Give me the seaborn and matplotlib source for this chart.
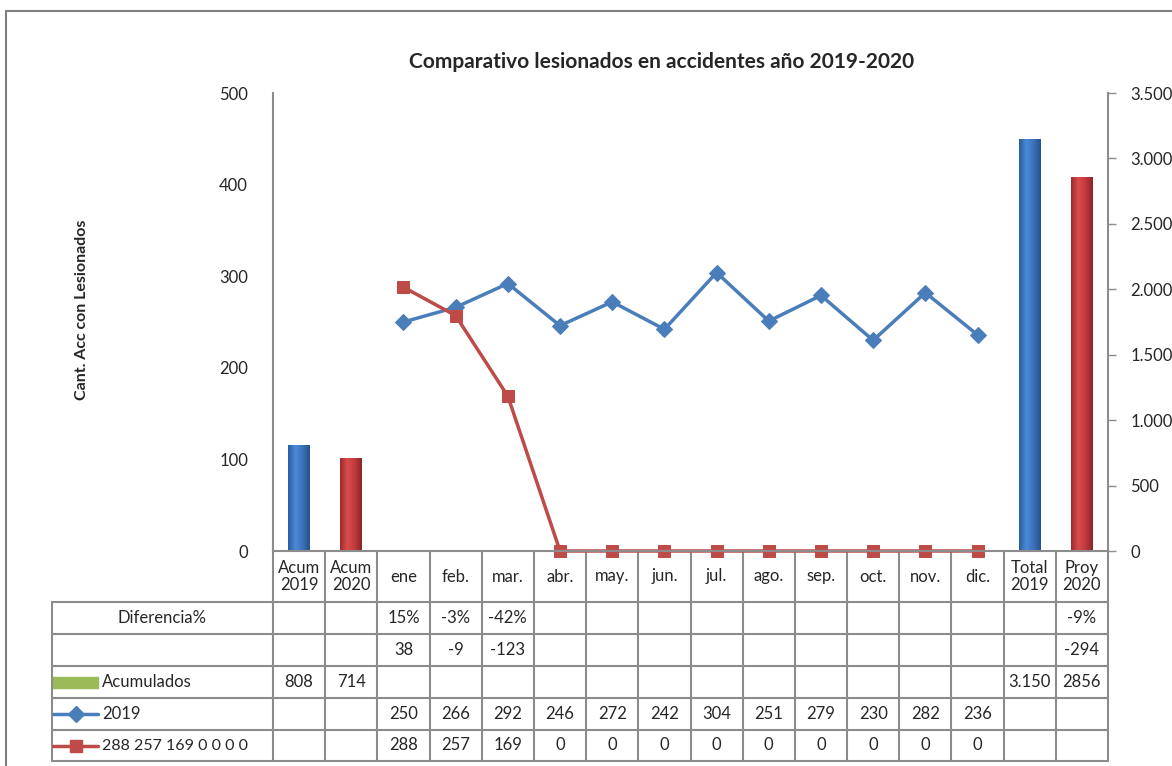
import numpy as np
import pandas as pd
import seaborn as sns
import matplotlib.pyplot as plt
from matplotlib.patches import Rectangle
from matplotlib.lines import Line2D
from matplotlib.ticker import FuncFormatter
from matplotlib.colors import LinearSegmentedColormap

# datos
categorias = ['Acum\n2019', 'Acum\n2020', 'ene', 'feb.', 'mar.', 'abr.', 'may.', 'jun.',
              'jul.', 'ago.', 'sep.', 'oct.', 'nov.', 'dic.', 'Total\n2019', 'Proy\n2020']
meses = categorias[2:14]
serie_2019 = [250, 266, 292, 246, 272, 242, 304, 251, 279, 230, 282, 236]
serie_2020 = [288, 257, 169, 0, 0, 0, 0, 0, 0, 0, 0, 0]
acum_cats = ['Acum\n2019', 'Acum\n2020', 'Total\n2019', 'Proy\n2020']
acumulados = [808, 714, 3150, 2856]
acum_grupo = ['2019', '2020', '2019', '2020']
dif_pct = ['', '', '15%', '-3%', '-42%'] + [''] * 10 + ['-9%']
dif_abs = ['', '', '38', '-9', '-123'] + [''] * 10 + ['-294']
acum_txt = ['808', '714'] + [''] * 12 + ['3.150', '2856']
nombre_2020 = '288 257 169 0 0 0 0'

pos = {c: i for i, c in enumerate(categorias)}

AZUL = '#4A7EBB'
ROJO = '#BE4B48'
GRIS = '#8C8C8C'
FS = 12

sns.set_style('white')
plt.rcParams['font.family'] = ['Lato', 'DejaVu Sans']

W, H = 1172, 766
fig = plt.figure(figsize=(W / 100, H / 100), dpi=100)
ax = fig.add_axes([273 / W, 1 - 551 / H, 835 / W, 458 / H])
ax2 = ax.twinx()

# barras acumuladas (eje secundario)
df_b = pd.DataFrame({'pos': [pos[c] for c in acum_cats], 'val': acumulados, 'grupo': acum_grupo})
sns.barplot(data=df_b, x='pos', y='val', hue='grupo', palette={'2019': '#3B74BC', '2020': '#C93D3F'},
            native_scale=True, dodge=False, width=0.42, ax=ax2, legend=False, linewidth=0)

# efecto cilindro en las barras
grad = {'2019': LinearSegmentedColormap.from_list('b', ['#2C5C9A', '#4A8AD8', '#3A72BA', '#26528C']),
        '2020': LinearSegmentedColormap.from_list('r', ['#9C2C2E', '#DA4B4D', '#C23A3C', '#8A2426'])}
grupo_por_pos = dict(zip(df_b['pos'], df_b['grupo']))
for p in list(ax2.patches):
    x0, w, h = p.get_x(), p.get_width(), p.get_height()
    g = grupo_por_pos[int(round(x0 + w / 2))]
    im = ax2.imshow(np.linspace(0, 1, 64).reshape(1, -1), cmap=grad[g], aspect='auto',
                    extent=(x0, x0 + w, 0, h), zorder=p.get_zorder() + 0.1)
    im.set_clip_path(p)
ax2.set_aspect('auto')

# lineas mensuales (eje principal)
x_meses = [pos[m] for m in meses]
sns.lineplot(x=x_meses, y=serie_2019, ax=ax, color=AZUL, marker='D', markersize=8,
             markeredgecolor=AZUL, linewidth=2.5)
sns.lineplot(x=x_meses, y=serie_2020, ax=ax, color=ROJO, marker='s', markersize=9,
             markeredgecolor=ROJO, linewidth=2.5, clip_on=False)

ax.set_xlim(-0.5, len(categorias) - 0.5)
ax2.set_xlim(-0.5, len(categorias) - 0.5)
ax.set_ylim(0, 500)
ax.set_yticks(range(0, 501, 100))
ax2.set_ylim(0, 3500)
ax2.set_yticks(range(0, 3501, 500))
ax2.yaxis.set_major_formatter(FuncFormatter(lambda v, _: f'{int(v):,}'.replace(',', '.')))
ax.set_xticks([])
ax2.set_xticks([])
ax.set_xlabel('')
ax2.set_xlabel('')
ax2.set_ylabel('')
ax.tick_params(axis='y', length=0, pad=18, labelsize=FS)
ax2.tick_params(axis='y', length=6, width=1, direction='out', color=GRIS, pad=10, labelsize=FS)
for s in ['top', 'right']:
    ax.spines[s].set_visible(False)
for s in ['top', 'left', 'bottom']:
    ax2.spines[s].set_visible(False)
for s in [ax.spines['left'], ax.spines['bottom'], ax2.spines['right']]:
    s.set_color(GRIS)
    s.set_linewidth(1.5)
ax.set_zorder(ax2.get_zorder() + 1)
ax.patch.set_visible(False)

fig.text(662 / W, 1 - 62 / H, 'Comparativo lesionados en accidentes año 2019-2020',
         ha='center', va='center', fontsize=15, fontweight='bold')
fig.text(82 / W, 1 - 310 / H, 'Cant. Acc con Lesionados', rotation=90,
         ha='center', va='center', fontsize=11.5, fontweight='bold')

# tabla de datos
col_w = 835 / len(categorias)
x_left = -0.5 - (273 - 52) / col_w
tab = fig.add_axes([52 / W, 1 - 761 / H, (1108 - 52) / W, 210 / H])
tab.set_xlim(x_left, len(categorias) - 0.5)
tab.set_ylim(210, 0)
tab.axis('off')

bordes = [0, 51, 83, 115, 147, 179, 210]
for y in bordes[1:]:
    tab.plot([x_left, len(categorias) - 0.5], [y, y], color=GRIS, lw=1.5, clip_on=False)
for i in range(len(categorias) + 1):
    tab.plot([i - 0.5, i - 0.5], [0, 210], color=GRIS, lw=1.5, clip_on=False)
tab.plot([x_left, x_left], [51, 210], color=GRIS, lw=1.5, clip_on=False)

for c in categorias:
    tab.text(pos[c], 25.5, c, ha='center', va='center', fontsize=FS, linespacing=1.15)

filas = [dif_pct, dif_abs, acum_txt,
         [''] * 2 + [str(v) for v in serie_2019] + [''] * 2,
         [''] * 2 + [str(v) for v in serie_2020] + [''] * 2]
for k, fila in enumerate(filas):
    yc = (bordes[k + 1] + bordes[k + 2]) / 2
    for i, t in enumerate(fila):
        tab.text(i, yc, t, ha='center', va='center', fontsize=FS)

px = lambda p: x_left + (p - 52) / col_w
yc = [(bordes[k] + bordes[k + 1]) / 2 for k in range(1, 6)]
tab.text(px(162), yc[0], 'Diferencia%', ha='center', va='center', fontsize=FS)
tab.add_patch(Rectangle((px(53), yc[2] - 5.5), px(98) - px(53), 11, color='#9BBB59'))
tab.text(px(102), yc[2], 'Acumulados', ha='left', va='center', fontsize=FS)
tab.add_line(Line2D([px(53), px(75.5), px(98)], [yc[3]] * 3, color=AZUL, lw=2.5,
                    marker='D', markersize=8, markevery=[1], markeredgecolor=AZUL))
tab.text(px(102), yc[3], '2019', ha='left', va='center', fontsize=FS)
tab.add_line(Line2D([px(53), px(75.5), px(98)], [yc[4]] * 3, color=ROJO, lw=2.5,
                    marker='s', markersize=9, markevery=[1], markeredgecolor=ROJO))
tab.text(px(102), yc[4], nombre_2020, ha='left', va='center', fontsize=11.5)

# marco exterior
fig.add_artist(Line2D([6 / W, 6 / W], [0, 1 - 11 / H], color='#7F7F7F', lw=1.5))
fig.add_artist(Line2D([6 / W, 1], [1 - 11 / H, 1 - 11 / H], color='#7F7F7F', lw=1.5))

fig.savefig('out.png', dpi=100)
